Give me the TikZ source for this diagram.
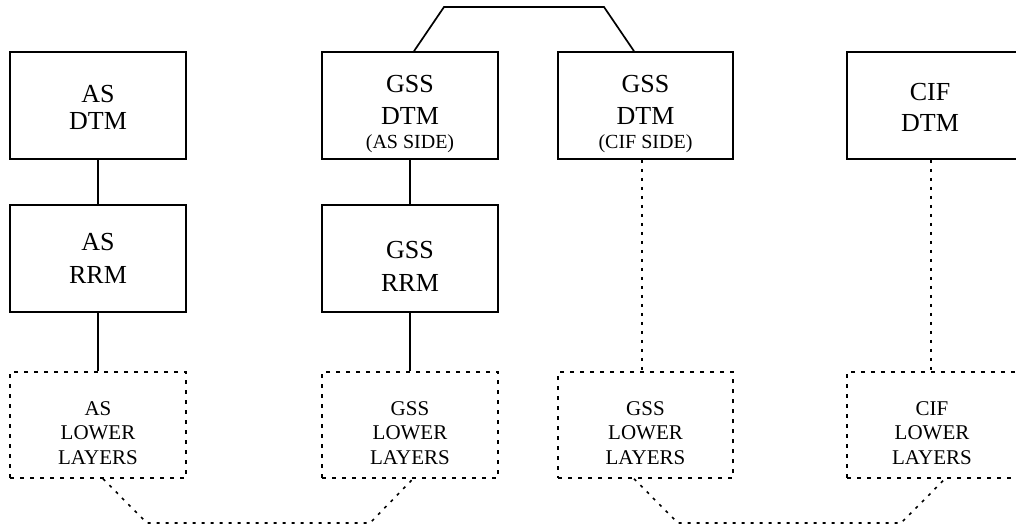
\documentclass[tikz,border=0pt]{standalone}
\usepackage{fontspec}
\setmainfont{Liberation Serif}
\begin{document}
\begin{tikzpicture}[x=1pt,y=-1pt,
  box/.style={draw,line width=1.7pt,minimum width=176pt,minimum height=107pt,inner sep=0pt,align=center,font=\fontsize{26}{27}\selectfont},
  lowbox/.style={draw,line width=1.6pt,dash pattern=on 4pt off 6pt,minimum width=176pt,minimum height=106pt,inner sep=0pt,align=center,font=\fontsize{21}{24.5}\selectfont},
  solidlink/.style={line width=1.7pt},
  dotlink/.style={line width=1.6pt,dash pattern=on 3pt off 6pt}]
\useasboundingbox (0,0) rectangle (1016,529);
\clip (0,0) rectangle (1016,529);
% top row
\node[box] (asdtm) at (98,105.5) {\rule{0pt}{21.6pt}AS\\DTM};
\node[box,font=\fontsize{26}{32}\selectfont] (gssa) at (410,105.5) {\rule{0pt}{35pt}GSS\\DTM\\[-8pt]{\fontsize{20}{20}\selectfont (AS SIDE)}};
\node[box,minimum width=175pt,font=\fontsize{26}{32}\selectfont] (gssc) at (645.5,105.5) {\rule{0pt}{35pt}GSS\\DTM\\[-8pt]{\fontsize{20}{20}\selectfont (CIF SIDE)}};
\node[box,font=\fontsize{26}{31}\selectfont] (cifdtm) at (935,105.5) {\hspace*{-10pt}\rule{0pt}{21pt}CIF\\\hspace*{-10pt}DTM};
% middle row
\node[box,font=\fontsize{26}{33}\selectfont] (asrrm) at (98,258.5) {AS\\RRM};
\node[box,font=\fontsize{26}{33}\selectfont] (gssrrm) at (410,258.5) {\rule{0pt}{33.6pt}GSS\\RRM};
% lower layers
\node[lowbox] (aslow) at (98,425) {\rule{0pt}{29.3pt}AS\\LOWER\\LAYERS};
\node[lowbox] (gsslowa) at (410,425) {\rule{0pt}{29.3pt}GSS\\LOWER\\LAYERS};
\node[lowbox,minimum width=175pt] (gsslowc) at (645.5,425) {\rule{0pt}{29.3pt}GSS\\LOWER\\LAYERS};
\node[lowbox] (ciflow) at (935,425) {\hspace*{-6pt}\rule{0pt}{29.3pt}CIF\\\hspace*{-6pt}LOWER\\\hspace*{-6pt}LAYERS};
% bridge between GSS DTMs
\coordinate (bl) at (444,7);
\coordinate (br) at (604,7);
\draw[solidlink,line join=miter] ([xshift=4pt]gssa.north) -- (bl) -- (br) -- ([xshift=-11.5pt]gssc.north);
% vertical links
\draw[solidlink] (asdtm.south) -- (asrrm.north);
\draw[solidlink] (asrrm.south) -- (aslow.north);
\draw[solidlink] (gssa.south) -- (gssrrm.north);
\draw[solidlink] (gssrrm.south) -- (gsslowa.north);
\draw[dotlink] ([xshift=-3.5pt]gssc.south) -- ([xshift=-3.5pt]gsslowc.north);
\draw[dotlink] ([xshift=-4pt]cifdtm.south) -- ([xshift=-4pt]ciflow.north);
% bottom links
\coordinate (l1) at (147,523);
\coordinate (l2) at (370,523);
\coordinate (r1) at (678,523);
\coordinate (r2) at (901,523);
\draw[dotlink] ([xshift=5pt]aslow.south) -- (l1) -- (l2) -- ([xshift=3pt]gsslowa.south);
\draw[dotlink] ([xshift=-11.5pt]gsslowc.south) -- (r1) -- (r2) -- ([xshift=10pt]ciflow.south);
\end{tikzpicture}
\end{document}
